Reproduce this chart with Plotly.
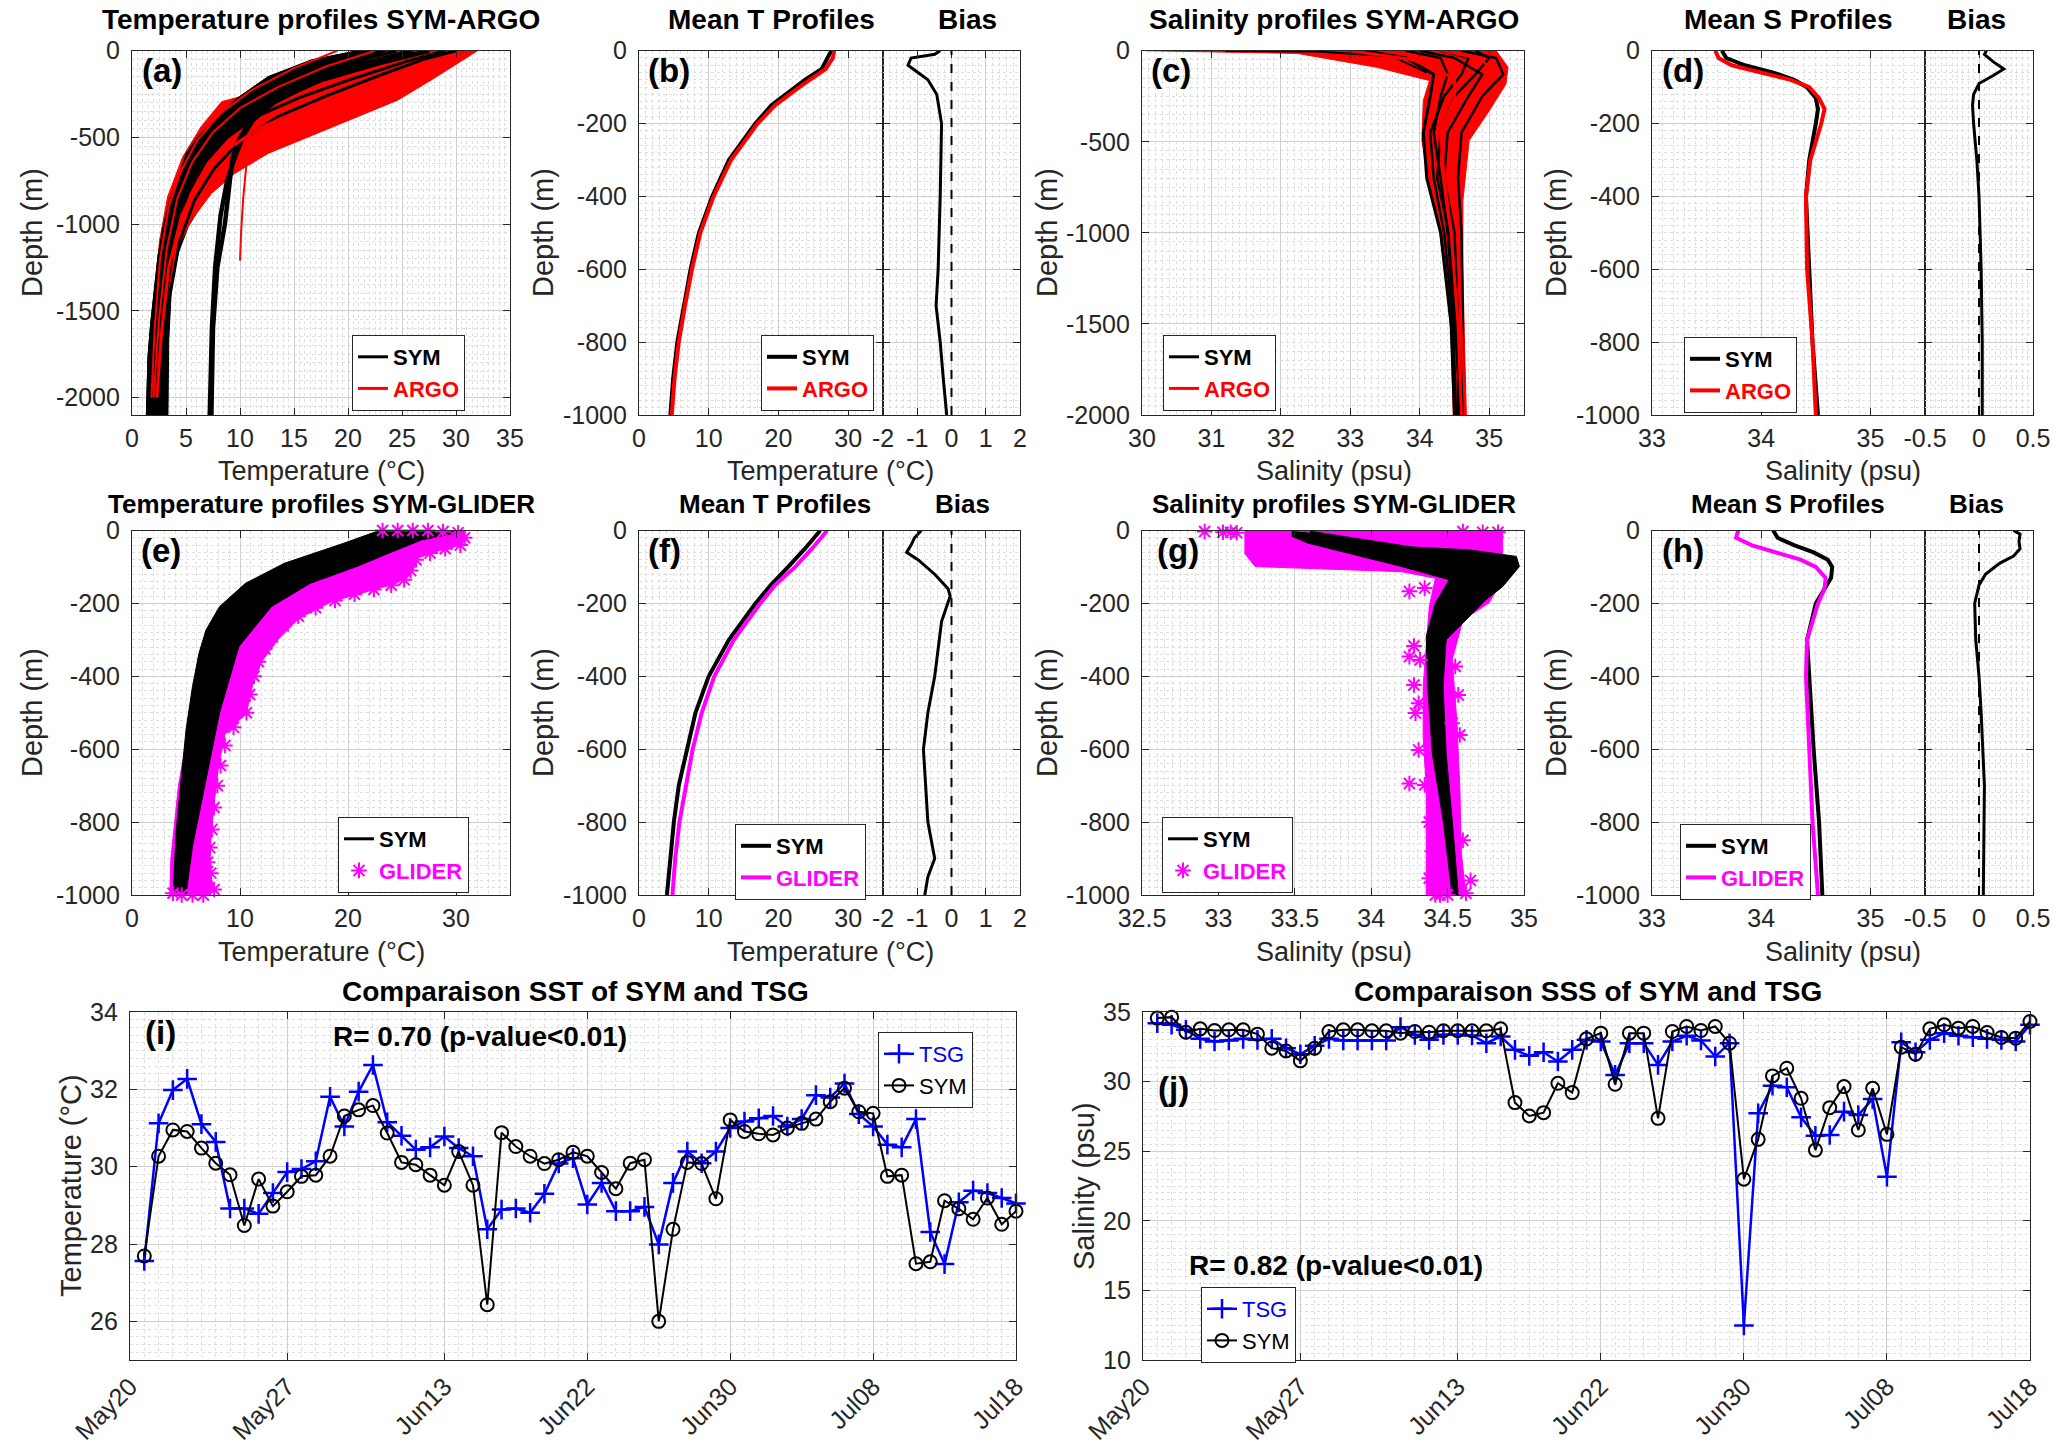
import plotly.graph_objects as go

# ---------------- values ----------------

# (i) / (j): surface series, one value per station
STATION = list(range(1, 63))
DATE_TICKS = [0, 11, 22, 32, 42, 52, 62]
DATE_LABELS = ["May20", "May27", "Jun13", "Jun22", "Jun30", "Jul08", "Jul18"]

SST_TSG = [27.56, 31.12, 31.98, 32.27, 31.10, 30.64, 28.92, 28.92, 28.78, 29.32,
           29.86, 29.94, 30.14, 31.81, 31.04, 31.94, 32.63, 31.15, 30.80, 30.44,
           30.50, 30.78, 30.48, 30.27, 28.38, 28.89, 28.92, 28.81, 29.30, 30.08,
           30.22, 29.02, 29.58, 28.85, 28.85, 28.96, 27.99, 29.58, 30.39, 30.09,
           30.39, 31.00, 31.17, 31.25, 31.31, 31.04, 31.23, 31.85, 31.79, 32.15,
           31.36, 31.04, 30.57, 30.50, 31.23, 28.31, 27.48, 29.08, 29.38, 29.32,
           29.19, 29.05]
SST_SYM = [27.69, 30.27, 30.95, 30.91, 30.48, 30.09, 29.79, 28.48, 29.68, 28.98,
           29.35, 29.75, 29.78, 30.27, 31.31, 31.47, 31.58, 30.87, 30.11, 30.05,
           29.78, 29.52, 30.39, 29.52, 26.43, 30.88, 30.52, 30.27, 30.08, 30.18,
           30.37, 30.27, 29.85, 29.43, 30.09, 30.18, 26.00, 28.38, 30.11, 30.08,
           29.17, 31.21, 30.91, 30.85, 30.82, 31.00, 31.12, 31.23, 31.68, 32.03,
           31.42, 31.38, 29.75, 29.78, 27.49, 27.54, 29.12, 28.91, 28.64, 29.19,
           28.51, 28.85]
SSS_TSG = [34.20, 34.08, 33.72, 33.07, 32.88, 32.95, 33.07, 33.00, 33.07, 32.40,
           31.97, 32.57, 33.07, 32.95, 32.95, 32.95, 32.95, 33.91, 33.36, 33.00,
           33.36, 33.36, 33.31, 32.76, 33.24, 32.28, 31.85, 32.11, 31.44, 32.28,
           33.00, 32.88, 30.48, 32.76, 32.76, 31.20, 32.88, 33.29, 32.95, 31.80,
           32.76, 12.48, 27.72, 29.71, 29.59, 27.43, 26.11, 26.16, 27.84, 27.60,
           28.75, 23.16, 32.83, 32.11, 33.00, 33.48, 33.29, 33.19, 33.07, 33.00,
           32.88, 34.08]
SSS_SYM = [34.56, 34.63, 33.55, 33.79, 33.67, 33.72, 33.72, 33.41, 32.40, 32.20,
           31.49, 32.40, 33.60, 33.72, 33.72, 33.65, 33.65, 33.48, 33.60, 33.55,
           33.65, 33.65, 33.65, 33.65, 33.79, 28.49, 27.53, 27.77, 29.88, 29.21,
           33.07, 33.48, 29.81, 33.48, 33.48, 27.36, 33.60, 33.96, 33.67, 33.96,
           32.76, 22.99, 25.85, 30.41, 30.96, 28.80, 25.08, 28.13, 29.64, 26.52,
           29.52, 26.21, 32.47, 31.97, 33.79, 34.08, 33.84, 33.96, 33.53, 33.17,
           33.12, 34.32]

# (a) temperature profiles SYM / ARGO: outline of each bundle + single profiles
A_SYM_BAND_T = [20.9, 16.6, 12.6, 9.5, 7.65, 6.1, 5.0, 4.26, 3.5, 2.87, 2.4, 2.04, 1.73, 1.48, 1.33,
                3.33, 3.4, 3.64, 4.26, 5.2, 6.7, 8.6, 11.0, 14.1, 17.8, 22.5, 26.5, 28.0]
A_SYM_BAND_D = [0, -54, -150, -285, -400, -496, -592, -746, -862, -1015, -1188, -1381, -1573, -1765, -2100,
                -2100, -1670, -1381, -1170, -1015, -862, -708, -554, -400, -265, -131, -25, 0]
# cold (upper-left) side of the SYM bundle, where black dominates
A_SYM_EDGE_T = [20.9, 16.6, 12.6, 9.5, 7.65, 6.1, 5.0, 4.26, 3.5, 2.87, 2.4, 2.04, 1.73, 1.48, 1.33,
                2.6, 2.8, 3.1, 3.6, 4.3, 5.2, 6.5, 8.3, 10.3, 12.8, 16.0, 19.5, 23.5]
A_SYM_EDGE_D = [0, -54, -150, -285, -400, -496, -592, -746, -862, -1015, -1188, -1381, -1573, -1765, -2100,
                -2100, -1700, -1400, -1150, -950, -800, -650, -520, -420, -320, -220, -120, 0]
A_ARGO_BAND_T = [24.0, 17.8, 12.3, 8.3, 6.4, 4.7, 3.3, 2.56, 2.1, 1.8, 1.64,
                 2.4, 2.87, 3.3, 4.26, 5.5, 7.35, 9.5, 12.6, 16.3, 20.9, 24.6, 27.7, 30.2, 32.0]
A_ARGO_BAND_D = [0, -83, -227, -294, -438, -612, -842, -1092, -1381, -1670, -1996,
                 -1996, -1670, -1400, -1130, -977, -823, -708, -592, -496, -381, -285, -169, -73, 0]
A_SYM_PROF_T = [
    [27.5, 23.0, 17.5, 13.5, 11.2, 10.4, 9.6, 8.8, 8.2, 7.7, 7.4, 7.2],
    [26.0, 21.0, 16.0, 12.5, 10.8, 10.0, 9.3, 9.0, 8.6, 7.9, 7.5, 7.35],
    [24.5, 19.5, 14.5, 11.0, 8.5, 6.5, 5.0, 3.8, 3.0, 2.4, 2.2, 2.1],
    [29.0, 25.5, 20.5, 15.5, 11.5, 8.8, 6.8, 5.2, 4.0, 3.2, 2.8, 2.6],
    [30.0, 27.0, 23.0, 18.0, 13.5, 10.0, 7.6, 5.8, 4.4, 3.4, 3.0, 2.9],
]
A_SYM_PROF_D = [
    [0, -70, -170, -280, -400, -480, -600, -750, -950, -1250, -1600, -2100],
    [0, -80, -190, -300, -420, -500, -620, -800, -1000, -1250, -1600, -2100],
    [0, -80, -200, -300, -420, -560, -720, -950, -1250, -1700, -1950, -2100],
    [0, -60, -160, -270, -380, -500, -640, -820, -1050, -1400, -1750, -2100],
    [0, -50, -140, -260, -380, -520, -680, -860, -1100, -1450, -1800, -2100],
]
A_ARGO_PROF_T = [
    [22.5, 18.0, 13.5, 10.0, 7.5, 5.6, 4.2, 3.2, 2.5, 2.0],
    [31.0, 27.5, 22.0, 16.5, 12.0, 8.5, 6.2, 4.6, 3.4, 2.7, 2.3],
    [12.5, 11.2, 10.6, 10.3, 10.1, 10.0],
    [19.0, 15.0, 11.0, 8.2, 6.0, 4.5, 3.4, 2.6, 2.1, 1.8],
]
A_ARGO_PROF_D = [
    [0, -90, -210, -330, -470, -640, -850, -1150, -1550, -2000],
    [0, -80, -200, -320, -440, -580, -740, -950, -1250, -1650, -2000],
    [-420, -520, -650, -850, -1050, -1210],
    [0, -100, -230, -360, -520, -700, -900, -1200, -1600, -2000],
]

# (b) mean temperature SYM / ARGO and bias
B_DEPTH = [0, -20, -50, -80, -100, -150, -200, -300, -400, -500, -600, -700, -800, -900, -1000]
B_SYM_T = [27.6, 27.1, 26.2, 23.8, 22.4, 19.0, 16.7, 12.9, 10.5, 8.6, 7.4, 6.4, 5.5, 4.9, 4.5]
B_ARGO_T = [28.0, 27.8, 26.8, 24.5, 23.0, 19.5, 17.0, 13.2, 10.7, 8.8, 7.6, 6.6, 5.7, 5.1, 4.7]
B_BIAS_D = [0, -10, -20, -40, -60, -80, -120, -200, -400, -600, -700, -800, -900, -1000]
B_BIAS = [-0.33, -0.49, -1.18, -1.27, -0.98, -0.69, -0.43, -0.29, -0.33, -0.39, -0.45, -0.33, -0.24, -0.14]

# (c) salinity profiles SYM / ARGO
C_ARGO_BAND_S = [30.05, 32.24, 33.38, 34.14, 34.05, 34.03, 34.14, 34.29, 34.38, 34.45, 34.48,
                 34.67, 34.64, 34.62, 34.62, 34.71, 35.0, 35.24, 35.27, 35.1]
C_ARGO_BAND_D = [0, -15, -91, -164, -274, -493, -749, -1005, -1279, -1553, -2000,
                 -2000, -1553, -1187, -822, -493, -329, -183, -91, 0]
C_SYM_PROF_S = [
    [33.2, 33.8, 34.2, 34.15, 34.05, 34.1, 34.3, 34.45, 34.5],
    [34.0, 34.5, 34.9, 34.7, 34.4, 34.35, 34.5, 34.55, 34.55],
    [34.6, 35.1, 35.2, 34.9, 34.6, 34.55, 34.6, 34.62, 34.62],
    [33.8, 34.3, 34.4, 34.3, 34.2, 34.3, 34.4, 34.5, 34.6],
    [34.3, 34.7, 34.6, 34.35, 34.15, 34.2, 34.35, 34.48, 34.52],
    [34.8, 35.0, 34.8, 34.5, 34.3, 34.25, 34.42, 34.52, 34.58],
]
C_SYM_PROF_D = [0, -40, -130, -250, -450, -700, -1000, -1500, -2000]
C_SYM_SURF_S = [31.2, 32.5, 33.6, 34.1]
C_SYM_SURF_D = [0, -5, -30, -120]
C_ARGO_PROF_S = [
    [33.0, 33.9, 34.5, 34.5, 34.3, 34.35, 34.45, 34.55, 34.6],
    [34.3, 34.9, 35.1, 34.8, 34.55, 34.5, 34.55, 34.6, 34.65],
]
C_ARGO_PROF_D = [0, -50, -150, -260, -450, -700, -1000, -1500, -2000]

# (d) mean salinity SYM / ARGO and bias
D_DEPTH = [0, -20, -40, -60, -80, -100, -130, -160, -200, -300, -400, -600, -800, -1000]
D_SYM_S = [33.64, 33.68, 33.85, 34.11, 34.30, 34.42, 34.50, 34.52, 34.50, 34.44, 34.41, 34.44, 34.47, 34.52]
D_ARGO_S = [33.58, 33.61, 33.73, 33.99, 34.27, 34.44, 34.53, 34.58, 34.55, 34.45, 34.41, 34.42, 34.47, 34.50]
D_BIAS_D = [0, -10, -30, -50, -70, -90, -120, -150, -200, -300, -400, -600, -800, -1000]
D_BIAS = [0.07, 0.05, 0.13, 0.23, 0.12, 0.0, -0.05, -0.06, -0.05, -0.02, 0.0, 0.02, 0.03, 0.03]

# (e) temperature profiles SYM / GLIDER
E_GLIDER_BAND_T = [23.0, 30.8, 30.5, 28.5, 26.5, 25.8, 24.5, 22.0, 18.5, 15.5, 13.5, 12.0, 11.2, 10.6, 8.6,
                   8.0, 7.6, 7.3, 7.2, 7.6, 6.8, 3.5, 3.6, 4.3, 5.5, 7.5, 12.0, 18.0, 22.5]
E_GLIDER_BAND_D = [0, 0, -40, -55, -75, -120, -145, -165, -195, -240, -300, -360, -420, -500, -560,
                   -650, -750, -850, -930, -990, -1000, -1000, -900, -700, -500, -300, -150, -70, -20]
E_SYM_BAND_T = [22.9, 19.6, 14.1, 10.5, 8.1, 6.85, 6.2, 5.6, 5.0, 4.55, 4.1, 3.8,
                5.0, 5.6, 6.85, 8.1, 9.9, 12.9, 16.5, 20.8, 23.8, 26.8, 29.9, 29.6]
E_SYM_BAND_D = [0, -35, -90, -145, -209, -273, -337, -428, -547, -684, -822, -1000,
                -1000, -867, -684, -501, -318, -209, -145, -99, -62, -26, -7, 0]
E_SYM_PROF_T = [26.5, 22.0, 15.5, 11.5, 9.0, 7.3, 6.3, 5.4, 4.8, 4.4]
E_SYM_PROF_D = [0, -50, -110, -170, -250, -350, -470, -620, -800, -1000]
E_GLIDER_T = [23.2, 24.6, 26.0, 27.4, 28.8, 30.2, 30.8, 30.4, 29.0, 27.6,
              26.3, 25.8, 25.2, 24.0, 22.4, 20.6, 18.8, 17.0, 15.4, 14.0,
              13.0, 12.3, 11.7, 11.3, 10.9, 10.6, 9.4, 8.6, 8.2, 7.9,
              7.6, 7.4, 7.2, 7.0, 7.3, 7.6, 6.6, 5.6, 4.6, 3.8]
E_GLIDER_D = [0, 0, 0, 0, -3, -6, -20, -40, -50, -62,
              -80, -110, -135, -150, -162, -175, -192, -212, -235, -262,
              -292, -325, -360, -400, -450, -500, -540, -590, -645, -700,
              -760, -820, -870, -910, -940, -985, -1000, -1000, -1000, -995]

# (f) mean temperature SYM / GLIDER and bias
F_DEPTH = [0, -50, -100, -150, -200, -300, -400, -500, -600, -700, -800, -900, -1000]
F_SYM_T = [26.0, 23.8, 21.4, 18.9, 16.7, 12.9, 10.0, 8.1, 6.9, 5.7, 5.0, 4.5, 4.0]
F_GLIDER_T = [27.0, 24.8, 22.4, 19.5, 17.4, 13.6, 10.8, 9.0, 7.7, 6.7, 5.8, 5.2, 4.8]
F_BIAS_D = [0, -20, -40, -60, -80, -120, -160, -180, -250, -400, -500, -600, -800, -900, -950, -1000]
F_BIAS = [-0.88, -1.08, -1.18, -1.31, -0.98, -0.49, -0.10, -0.04, -0.29, -0.49, -0.69, -0.82,
          -0.69, -0.49, -0.69, -0.78]

# (g) salinity profiles SYM / GLIDER
G_GLIDER_BAND_S = [33.17, 34.86, 34.86, 34.86, 34.77, 34.6, 34.53, 34.56, 34.58, 34.59, 34.62,
                   34.36, 34.36, 34.36, 34.34, 34.34, 34.36, 34.38, 34.42, 34.2, 33.24, 33.17]
G_GLIDER_BAND_D = [0, 0, -62, -135, -199, -245, -355, -520, -703, -886, -1000,
                   -1000, -886, -703, -565, -428, -318, -209, -131, -113, -99, -62]
G_SYM_BAND_S = [33.48, 33.59, 34.2, 34.64, 34.95, 34.97, 34.86, 34.75, 34.6, 34.49, 34.47, 34.49,
                34.53, 34.57, 34.53, 34.47, 34.4, 34.37, 34.36, 34.42, 34.51, 34.2, 33.59, 33.48]
G_SYM_BAND_D = [-3, -7, -44, -53, -71, -99, -154, -190, -254, -300, -428, -611,
                -794, -1000, -1000, -794, -611, -428, -291, -199, -135, -99, -35, -16]
G_SYM_PROF_S = [33.6, 34.3, 34.9, 34.7, 34.5, 34.43, 34.45, 34.5, 34.55]
G_SYM_PROF_D = [-5, -50, -80, -170, -270, -400, -600, -800, -1000]
G_GLIDER_S = [32.91, 33.03, 33.08, 33.12, 34.60, 34.73, 34.83, 34.25, 34.35, 34.28, 34.25,
              34.32, 34.55, 34.57, 34.28, 34.31, 34.29, 34.53, 34.58, 34.31, 34.25, 34.35,
              34.38, 34.42, 34.45, 34.62, 34.60, 34.40, 34.65, 34.38, 34.50]
G_GLIDER_D = [-3, -5, -5, -6, -3, -5, -5, -167, -158, -317, -346,
              -355, -373, -451, -424, -474, -501, -529, -561, -602, -694, -698,
              -954, -1000, -1000, -995, -850, -880, -960, -800, -1000]

# (h) mean salinity SYM / GLIDER and bias
H_DEPTH = [0, -20, -40, -60, -80, -100, -130, -160, -200, -300, -400, -600, -800, -1000]
H_SYM_S = [34.11, 34.15, 34.30, 34.48, 34.61, 34.65, 34.64, 34.58, 34.50, 34.42, 34.44, 34.48, 34.53, 34.56]
H_GLIDER_S = [33.79, 33.77, 33.91, 34.12, 34.36, 34.50, 34.59, 34.58, 34.52, 34.42, 34.41, 34.44, 34.47, 34.52]
H_BIAS_D = [0, -10, -30, -50, -70, -90, -120, -150, -200, -300, -400, -500, -700, -900, -1000]
H_BIAS = [0.32, 0.38, 0.37, 0.38, 0.32, 0.19, 0.06, 0.0, -0.04, -0.03, 0.0, 0.02, 0.05, 0.04, 0.04]

# ---------------- styling helpers ----------------
W, H = 2067, 1455
FONT = "Arial, 'Liberation Sans', Helvetica, sans-serif"
INK = "#262626"
RED = "#ff0000"
MAG = "#ff00ff"
BLUE = "#0000ff"


def fx(px):
    return px / W


def fy(px):
    return 1 - px / H


def ref(n):
    return ("x" if n == 1 else f"x{n}"), ("y" if n == 1 else f"y{n}")


def lbl(vals):
    return ["%g" % v for v in vals]


def steps(a, b, s):
    out, v = [], a
    while v <= b + 1e-9:
        out.append(round(v, 6))
        v += s
    return out


def base_axis():
    return dict(showline=True, linecolor=INK, linewidth=1.2, mirror="ticks",
                ticks="inside", ticklen=7, tickwidth=1, tickcolor=INK,
                showgrid=True, gridcolor="#cfcfcf", gridwidth=1, zeroline=False,
                tickfont=dict(family=FONT, size=25, color=INK), automargin=False,
                ticklabelstandoff=6, tickangle=0, layer="above traces")


def minor(dt):
    return dict(dtick=dt, tick0=0, showgrid=True, gridcolor="#dedede",
                griddash="dot", gridwidth=1)


layout = {}


def axes(n, xd, yd, xrange, xt, xminor, yrange, yt, yminor, ylabels=True, ymatch=None,
         xtext=None, xangle=0):
    xs = base_axis()
    xs.update(domain=[fx(xd[0]), fx(xd[1])], anchor=ref(n)[1], range=xrange,
              tickmode="array", tickvals=xt, ticktext=xtext or lbl(xt),
              minor=minor(xminor), tickangle=xangle, ticklabelstandoff=1)
    ys = base_axis()
    ys.update(domain=[fy(yd[1]), fy(yd[0])], anchor=ref(n)[0], range=yrange,
              tickmode="array", tickvals=yt, ticktext=lbl(yt), minor=minor(yminor),
              showticklabels=ylabels)
    if ymatch:
        ys["matches"] = ymatch
    layout["xaxis" if n == 1 else f"xaxis{n}"] = xs
    layout["yaxis" if n == 1 else f"yaxis{n}"] = ys


ROW1, ROW2, ROW3 = (50.7, 415), (530.5, 895), (1012, 1360)
COL_A, COL_BM, COL_BB = (132, 510), (639, 883), (883, 1020)
COL_C, COL_DM, COL_DB = (1142, 1524), (1652, 1925), (1925, 2033)

D1000 = steps(-1000, 0, 200)
axes(1, COL_A, ROW1, [0, 35], steps(0, 35, 5), 0.5, [-2100, 0], steps(-2000, 0, 500), 50)
axes(2, COL_BM, ROW1, [0, 35], [0, 10, 20, 30], 1, [-1000, 0], D1000, 20)
axes(3, COL_BB, ROW1, [-2, 2], [-2, -1, 0, 1, 2], 0.2, [-1000, 0], D1000, 20, False, "y2")
axes(4, COL_C, ROW1, [30, 35.5], steps(30, 35, 1), 0.1, [-2000, 0], steps(-2000, 0, 500), 50)
axes(5, COL_DM, ROW1, [33, 35.5], [33, 34, 35], 0.1, [-1000, 0], D1000, 20)
axes(6, COL_DB, ROW1, [-0.5, 0.5], [-0.5, 0, 0.5], 0.05, [-1000, 0], D1000, 20, False, "y5")
axes(7, COL_A, ROW2, [0, 35], [0, 10, 20, 30], 1, [-1000, 0], D1000, 20)
axes(8, COL_BM, ROW2, [0, 35], [0, 10, 20, 30], 1, [-1000, 0], D1000, 20)
axes(9, COL_BB, ROW2, [-2, 2], [-2, -1, 0, 1, 2], 0.2, [-1000, 0], D1000, 20, False, "y8")
axes(10, COL_C, ROW2, [32.5, 35], steps(32.5, 35, 0.5), 0.05, [-1000, 0], D1000, 20)
axes(11, COL_DM, ROW2, [33, 35.5], [33, 34, 35], 0.1, [-1000, 0], D1000, 20)
axes(12, COL_DB, ROW2, [-0.5, 0.5], [-0.5, 0, 0.5], 0.05, [-1000, 0], D1000, 20, False, "y11")
axes(13, (130, 1016), ROW3, [0, 62], DATE_TICKS, 1, [25, 34], [26, 28, 30, 32, 34], 0.2,
     xtext=DATE_LABELS, xangle=-45)
axes(14, (1143, 2030), ROW3, [0, 62], DATE_TICKS, 1, [10, 35], steps(10, 35, 5), 0.5,
     xtext=DATE_LABELS, xangle=-45)


def legend_box(x, y):
    return dict(x=fx(x), y=fy(y), xanchor="left", yanchor="top", bgcolor="white",
                bordercolor=INK, borderwidth=1, itemwidth=30, tracegroupgap=0,
                font=dict(family=FONT, size=22, color="black"))


LEG_POS = {"legend": (352, 335), "legend2": (761, 335), "legend3": (1163, 335),
           "legend4": (1684, 337), "legend5": (338, 817), "legend6": (735, 824),
           "legend7": (1162, 817), "legend8": (1680, 824), "legend9": (878, 1032),
           "legend10": (1201, 1287)}
for k, (x, y) in LEG_POS.items():
    layout[k] = legend_box(x, y)

fig = go.Figure()


def line(n, x, y, color, width, name=None, leg=None, rank=None):
    xa, ya = ref(n)
    fig.add_trace(go.Scatter(x=x, y=y, mode="lines", line=dict(color=color, width=width),
                             xaxis=xa, yaxis=ya, name=name, showlegend=name is not None,
                             legend=leg, legendrank=rank, hoverinfo="skip"))


def band(n, x, y, color):
    xa, ya = ref(n)
    fig.add_trace(go.Scatter(x=x, y=y, mode="lines", fill="toself", fillcolor=color,
                             line=dict(color=color, width=1), xaxis=xa, yaxis=ya,
                             showlegend=False, hoverinfo="skip"))


def stars(n, x, y, name=None, leg=None, rank=None):
    xa, ya = ref(n)
    fig.add_trace(go.Scatter(x=x, y=y, mode="markers", cliponaxis=False,
                             marker=dict(symbol="asterisk-open", size=13, color=MAG,
                                         line=dict(width=2, color=MAG)),
                             xaxis=xa, yaxis=ya, name=name, showlegend=name is not None,
                             legend=leg, legendrank=rank, hoverinfo="skip"))


SYM_NAME = "<b>SYM</b>"
ARGO_NAME = "<b><span style='color:#ff0000'>ARGO</span></b>"
GLIDER_NAME = "<b><span style='color:#ff00ff'>GLIDER</span></b>"

# (a)
band(1, A_SYM_BAND_T, A_SYM_BAND_D, "black")
band(1, A_ARGO_BAND_T, A_ARGO_BAND_D, RED)
band(1, A_SYM_EDGE_T, A_SYM_EDGE_D, "black")
for i, (t, d) in enumerate(zip(A_SYM_PROF_T, A_SYM_PROF_D)):
    w = 4.5 if i < 2 else 3
    line(1, t, d, "black", w, SYM_NAME if i == 3 else None, "legend", 1)
for i, (t, d) in enumerate(zip(A_ARGO_PROF_T, A_ARGO_PROF_D)):
    line(1, t, d, RED, 3 if i == 1 else 2, ARGO_NAME if i == 1 else None, "legend", 2)

# (b)
line(2, B_SYM_T, B_DEPTH, "black", 4, SYM_NAME, "legend2", 1)
line(2, B_ARGO_T, B_DEPTH, RED, 4, ARGO_NAME, "legend2", 2)
line(3, B_BIAS, B_BIAS_D, "black", 3)

# (c)
band(4, C_ARGO_BAND_S, C_ARGO_BAND_D, RED)
for i, s in enumerate(C_SYM_PROF_S):
    line(4, s, C_SYM_PROF_D, "black", 3 if i == 0 else 2.5,
         SYM_NAME if i == 0 else None, "legend3", 1)
line(4, C_SYM_SURF_S, C_SYM_SURF_D, "black", 2)
for i, s in enumerate(C_ARGO_PROF_S):
    line(4, s, C_ARGO_PROF_D, RED, 3 if i == 0 else 2,
         ARGO_NAME if i == 0 else None, "legend3", 2)

# (d)
line(5, D_SYM_S, D_DEPTH, "black", 4, SYM_NAME, "legend4", 1)
line(5, D_ARGO_S, D_DEPTH, RED, 4, ARGO_NAME, "legend4", 2)
line(6, D_BIAS, D_BIAS_D, "black", 3)

# (e)
band(7, E_GLIDER_BAND_T, E_GLIDER_BAND_D, MAG)
band(7, E_SYM_BAND_T, E_SYM_BAND_D, "black")
line(7, E_SYM_PROF_T, E_SYM_PROF_D, "black", 3, SYM_NAME, "legend5", 1)
stars(7, E_GLIDER_T, E_GLIDER_D, GLIDER_NAME, "legend5", 2)

# (f)
line(8, F_SYM_T, F_DEPTH, "black", 4, SYM_NAME, "legend6", 1)
line(8, F_GLIDER_T, F_DEPTH, MAG, 4, GLIDER_NAME, "legend6", 2)
line(9, F_BIAS, F_BIAS_D, "black", 3)

# (g)
band(10, G_GLIDER_BAND_S, G_GLIDER_BAND_D, MAG)
band(10, G_SYM_BAND_S, G_SYM_BAND_D, "black")
line(10, G_SYM_PROF_S, G_SYM_PROF_D, "black", 3, SYM_NAME, "legend7", 1)
stars(10, G_GLIDER_S, G_GLIDER_D, GLIDER_NAME, "legend7", 2)

# (h)
line(11, H_SYM_S, H_DEPTH, "black", 4, SYM_NAME, "legend8", 1)
line(11, H_GLIDER_S, H_DEPTH, MAG, 4, GLIDER_NAME, "legend8", 2)
line(12, H_BIAS, H_BIAS_D, "black", 3)

# (i) and (j)
for n, tsg, sym, leg in [(13, SST_TSG, SST_SYM, "legend9"), (14, SSS_TSG, SSS_SYM, "legend10")]:
    xa, ya = ref(n)
    fig.add_trace(go.Scatter(
        x=STATION, y=tsg, mode="lines+markers", name="<span style='color:#0000ff'>TSG</span>",
        line=dict(color=BLUE, width=2.5),
        marker=dict(symbol="cross-thin-open", size=14, color=BLUE, line=dict(width=2.5, color=BLUE)),
        xaxis=xa, yaxis=ya, legend=leg, legendrank=1, cliponaxis=False, hoverinfo="skip"))
    fig.add_trace(go.Scatter(
        x=STATION, y=sym, mode="lines+markers", name="SYM",
        line=dict(color="black", width=2),
        marker=dict(symbol="circle-open", size=13, color="black", line=dict(width=2, color="black")),
        xaxis=xa, yaxis=ya, legend=leg, legendrank=2, cliponaxis=False, hoverinfo="skip"))

# dashed zero lines in the bias panels
shapes = []
for n in (3, 6, 9, 12):
    xa, ya = ref(n)
    shapes.append(dict(type="line", xref=xa, yref=f"{ya} domain", x0=0, x1=0, y0=0, y1=1,
                       line=dict(color="black", width=2, dash="dash"), layer="above"))

# ---------------- text ----------------
annotations = []


def text(x, y, s, size, bold=False, xanchor="center", yanchor="middle", angle=0, color="black"):
    annotations.append(dict(x=fx(x), y=fy(y), xref="paper", yref="paper",
                            text=f"<b>{s}</b>" if bold else s, showarrow=False,
                            xanchor=xanchor, yanchor=yanchor, textangle=angle,
                            font=dict(family=FONT, size=size, color=color)))


TITLES_TOP = [
    (321, 20, "Temperature profiles SYM-ARGO"), (771, 20, "Mean T Profiles"), (967, 20, "Bias"),
    (1334, 20, "Salinity profiles SYM-ARGO"), (1788, 20, "Mean S Profiles"), (1976, 20, "Bias"),
]
TITLES_MID = [
    (321, 504, "Temperature profiles SYM-GLIDER"), (775, 504, "Mean T Profiles"), (962, 504, "Bias"),
    (1334, 504, "Salinity profiles SYM-GLIDER"), (1788, 504, "Mean S Profiles"), (1976, 504, "Bias"),
]
TITLES_LOW = [(575, 991, "Comparaison SST of SYM and TSG"), (1588, 991, "Comparaison SSS of SYM and TSG")]
for x, y, s in TITLES_TOP + TITLES_LOW:
    text(x, y, s, 28, bold=True)
for x, y, s in TITLES_MID:
    text(x, y, s, 26, bold=True)

PANEL_TAGS = [(140, 50, "(a)"), (646, 50, "(b)"), (1149, 50, "(c)"), (1660, 50, "(d)"),
              (139, 530, "(e)"), (646, 530, "(f)"), (1155, 530, "(g)"), (1660, 530, "(h)"),
              (143, 1012, "(i)"), (1156, 1068, "(j)")]
for x, y, s in PANEL_TAGS:
    text(x, y, s, 33, bold=True, xanchor="left", yanchor="top")

text(331, 1036, "R= 0.70 (p-value&lt;0.01)", 28, bold=True, xanchor="left")
text(1187, 1265, "R= 0.82 (p-value&lt;0.01)", 28, bold=True, xanchor="left")

X_TITLES = [(321, 471, "Temperature (°C)"), (830, 471, "Temperature (°C)"),
            (1334, 471, "Salinity (psu)"), (1843, 471, "Salinity (psu)"),
            (321, 952, "Temperature (°C)"), (830, 952, "Temperature (°C)"),
            (1334, 952, "Salinity (psu)"), (1843, 952, "Salinity (psu)")]
for x, y, s in X_TITLES:
    text(x, y, s, 27, color=INK)

Y_TITLES = [(32, 233, "Depth (m)"), (543, 233, "Depth (m)"), (1047, 233, "Depth (m)"),
            (1556, 233, "Depth (m)"), (32, 713, "Depth (m)"), (543, 713, "Depth (m)"),
            (1047, 713, "Depth (m)"), (1556, 713, "Depth (m)"),
            (71, 1186, "Temperature (°C)"), (1084, 1186, "Salinity (psu)")]
for x, y, s in Y_TITLES:
    text(x, y, s, 29, angle=-90, color=INK)

fig.update_layout(layout)
fig.update_layout(
    width=W, height=H, margin=dict(l=0, r=0, t=0, b=0, autoexpand=False),
    paper_bgcolor="white", plot_bgcolor="white",
    font=dict(family=FONT, color=INK),
    shapes=shapes, annotations=annotations, hovermode=False,
)

fig.write_html("out.html", config={"displayModeBar": False},
               post_script="document.body.style.margin='0';")
